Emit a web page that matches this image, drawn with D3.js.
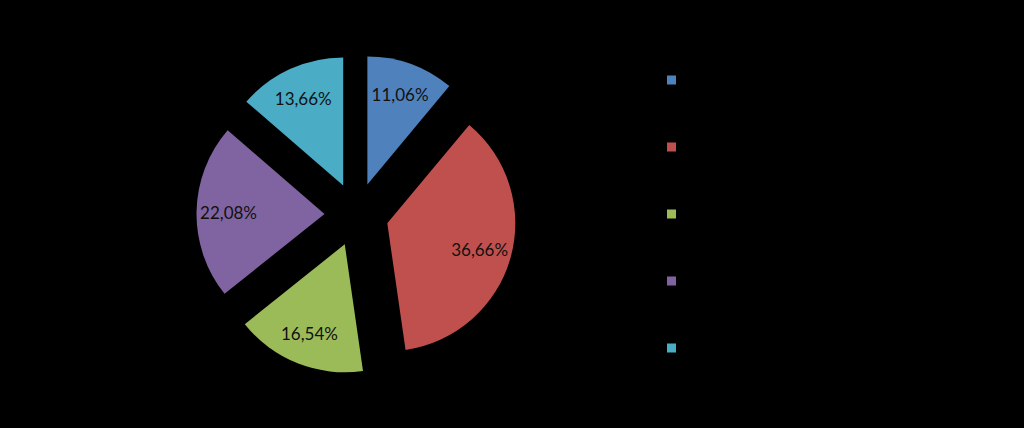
<!DOCTYPE html>
<html><head><meta charset="utf-8">
<script src="https://cdn.jsdelivr.net/npm/d3@7"></script>
<style>html,body{margin:0;padding:0;background:#000;}svg{display:block;}</style>
</head><body>
<svg id="c" width="1024" height="428"></svg>
<script>
const categories = ["1", "2", "3", "4", "5"];
const values = [11.06, 36.66, 16.54, 22.08, 13.66];
const labels = ["11,06%", "36,66%", "16,54%", "22,08%", "13,66%"];
const colors = ["#4F81BD", "#C0504D", "#9BBB59", "#8064A2", "#4BACC6"];

const svg = d3.select("#c");
const cx = 356.5, cy = 214.5, r = 128, explode = 32, labelR = 96;
const pie = d3.pie().sort(null).value(d => d)(values);
const arc = d3.arc().innerRadius(0).outerRadius(r);
const g = svg.append("g").attr("transform", `translate(${cx},${cy})`);
const sl = g.selectAll("g.s").data(pie).enter().append("g")
  .attr("transform", d => {
    const m = (d.startAngle + d.endAngle) / 2;
    return `translate(${explode * Math.sin(m)},${-explode * Math.cos(m)})`;
  });
sl.append("path").attr("d", arc).attr("fill", (d, i) => colors[i]);
sl.append("text")
  .attr("x", d => labelR * Math.sin((d.startAngle + d.endAngle) / 2))
  .attr("y", d => -labelR * Math.cos((d.startAngle + d.endAngle) / 2))
  .attr("text-anchor", "middle").attr("dominant-baseline", "central")
  .attr("font-family", "Lato, 'Open Sans', sans-serif").attr("font-size", 17)
  .attr("fill", "#111")
  .text((d, i) => labels[i]);

const leg = svg.append("g");
const ly = d3.scalePoint().domain(categories).range([80, 348]);
const li = leg.selectAll("g").data(categories).enter().append("g")
  .attr("transform", d => `translate(667,${ly(d)})`);
li.append("rect").attr("x", 0).attr("y", -4.5).attr("width", 9).attr("height", 9)
  .attr("fill", (d, i) => colors[i]);
li.append("text").attr("x", 16).attr("y", 0).attr("dominant-baseline", "central")
  .attr("font-family", "Lato, sans-serif").attr("font-size", 15).attr("fill", "#000")
  .text(d => d);
</script>
</body></html>
